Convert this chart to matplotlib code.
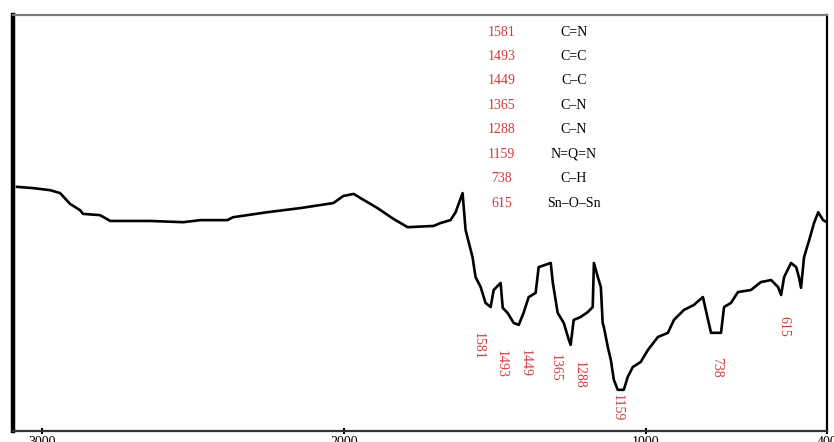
import numpy as np
import matplotlib.pyplot as plt

plt.rcParams['font.family'] = ['Liberation Serif', 'DejaVu Serif']

# FTIR trace (wavenumber cm-1, transmittance %)
wavenumber = [3083, 3030, 2973, 2940, 2907, 2874, 2864, 2808, 2774, 2642,
              2532, 2476, 2386, 2367, 2254, 2144, 2035, 2002, 1968, 1945,
              1889, 1836, 1789, 1703, 1680, 1647, 1630, 1607, 1597, 1574,
              1564, 1547, 1531, 1514, 1504, 1481, 1474, 1458, 1438, 1421,
              1405, 1388, 1365, 1355, 1315, 1308, 1292, 1272, 1255, 1249,
              1239, 1216, 1192, 1176, 1172, 1159, 1149, 1143, 1139, 1126,
              1116, 1106, 1093, 1073, 1060, 1043, 1017, 993, 960, 927,
              907, 874, 841, 811, 794, 784, 751, 741, 718, 695,
              652, 619, 585, 562, 552, 542, 519, 502, 493, 486,
              476, 459, 443, 429, 413, 400]
transmittance = [58.7, 58.4, 57.9, 57.2, 54.6, 53.1, 52.2, 51.9, 50.5, 50.5,
                 50.2, 50.7, 50.7, 51.4, 52.6, 53.6, 54.8, 56.5, 57.0, 56.0,
                 53.6, 51.0, 49.0, 49.3, 50.0, 50.7, 52.6, 57.2, 48.3, 41.8,
                 37.0, 34.6, 30.8, 29.8, 33.9, 35.6, 29.6, 28.4, 26.0, 25.5,
                 28.4, 32.2, 33.2, 39.4, 40.4, 35.6, 28.4, 26.0, 21.9, 20.7,
                 26.7, 27.4, 28.6, 29.8, 40.4, 37.0, 34.6, 26.0, 25.0, 20.2,
                 17.1, 12.3, 9.9, 9.9, 13.0, 15.4, 16.6, 19.5, 22.6, 23.6,
                 26.7, 29.1, 30.3, 32.2, 26.7, 23.6, 23.6, 29.8, 30.8, 33.4,
                 33.9, 35.8, 36.3, 34.6, 32.7, 37.0, 40.4, 39.4, 37.0, 34.4,
                 41.8, 45.9, 50.0, 52.6, 50.7, 50.2]

peak_labels = ['1581', '1493', '1449', '1365', '1288', '1159', '738', '615']
bond_labels = ['C=N', 'C=C', 'C\u2013C', 'C\u2013N', 'C\u2013N', 'N=Q=N', 'C\u2013H', 'Sn\u2013O\u2013Sn']
peak_label_x = [1554, 1478, 1401, 1299, 1219, 1096, 765, 542]
peak_label_y = [20.4, 16.1, 16.3, 15.1, 13.5, 5.5, 15.4, 25.2]

red = '#d23a3c'

fig = plt.figure(figsize=(8.34, 4.42), dpi=100)
ax = fig.add_axes([0.0156, 0.0249, 0.976, 0.941])

ax.plot(wavenumber, transmittance, color='black', lw=1.9)

ax.set_xlim(3096, 400)
ax.set_ylim(0, 100)
ax.set_yticks([])
ax.set_xticks([3000, 2000, 1000, 400])
ax.set_xticklabels(['3000', '2000', '1000', '400'], fontsize=10)
ax.tick_params(axis='x', direction='inout', length=5, width=1.5, pad=1)

ax.spines['left'].set_linewidth(3.2)
ax.spines['left'].set_color('black')
ax.spines['right'].set_linewidth(1.6)
ax.spines['right'].set_color('black')
ax.spines['top'].set_linewidth(1.6)
ax.spines['top'].set_color('#7a7a7a')
ax.spines['bottom'].set_linewidth(1.6)
ax.spines['bottom'].set_color('#333333')

# table of assignments at the top
for i, (p, b) in enumerate(zip(peak_labels, bond_labels)):
    y = 95.9 - i * 5.87
    ax.text(1478, y, p, color=red, fontsize=10, ha='center', va='center')
    ax.text(1239, y, b, color='black', fontsize=10, ha='center', va='center')

# rotated peak labels under the trace
for p, x, y in zip(peak_labels, peak_label_x, peak_label_y):
    ax.text(x, y, p, color=red, fontsize=10, rotation=-90,
            ha='center', va='center')

fig.savefig('out.png', dpi=100)
